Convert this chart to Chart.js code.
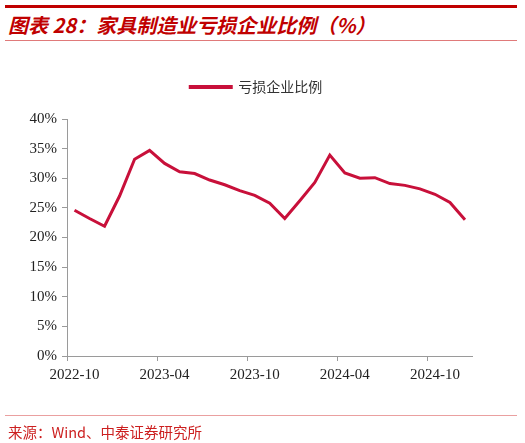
<!DOCTYPE html>
<html>
<head>
<meta charset="utf-8">
<script src="https://cdn.jsdelivr.net/npm/chart.js@4"></script>
<style>
  html, body { margin: 0; padding: 0; background: #fff; }
  #wrap { position: relative; width: 525px; height: 443px; overflow: hidden; }
  .rule { position: absolute; left: 5px; width: 512px; }
  #topRule { top: 5px; height: 3px; background: #c00000; }
  #titleRule { top: 40px; height: 1px; background: #e07a7a; }
  #srcRule { top: 415px; height: 1px; background: #eaa0a0; }
  #title { position: absolute; left: 8px; top: 10px; font: italic bold 20px "Noto Sans CJK SC", sans-serif; color: #c00000; white-space: nowrap; }
  #source { position: absolute; left: 8px; top: 421px; font: 14.5px "Noto Sans CJK SC", sans-serif; color: #cc1f1f; white-space: nowrap; }
  #c { position: absolute; left: 0; top: 0; }
</style>
</head>
<body>
<div id="wrap">
  <div class="rule" id="topRule"></div>
  <div id="title">图表 28：家具制造业亏损企业比例（%）</div>
  <div class="rule" id="titleRule"></div>
  <canvas id="c" width="525" height="443"></canvas>
  <div class="rule" id="srcRule"></div>
  <div id="source">来源：Wind、中泰证券研究所</div>
</div>
<script>
// ── Dados ──
const meses = ['2022-10','2022-11','2022-12',
  '2023-01','2023-02','2023-03','2023-04','2023-05','2023-06','2023-07','2023-08','2023-09','2023-10','2023-11','2023-12',
  '2024-01','2024-02','2024-03','2024-04','2024-05','2024-06','2024-07','2024-08','2024-09','2024-10','2024-11','2024-12'];
const prejuizo = [24.6, 23.2, 21.9,
  27.0, 33.2, 34.7, 32.5, 31.1, 30.8, 29.7, 28.9, 27.9, 27.1, 25.8, 23.2,
  26.2, 29.3, 33.9, 30.9, 30.0, 30.1, 29.1, 28.8, 28.2, 27.3, 25.9, 23.0];
const yTicks = [0, 5, 10, 15, 20, 25, 30, 35, 40];

const cor = '#c8103a';
const eixo = '#9a9a9a';
const serif = '"Liberation Serif", "Times New Roman", serif';

// espaço extra entre a legenda e a área do gráfico
const legendaGap = {
  id: 'legendaGap',
  beforeUpdate(chart) {
    const lg = chart.legend;
    if (lg && !lg._gapOk) {
      const fitOrig = lg.fit;
      lg.fit = function () { fitOrig.call(this); this.height += 15; };
      lg._gapOk = true;
    }
  }
};

new Chart(document.getElementById('c'), {
  type: 'line',
  data: {
    labels: meses,
    datasets: [{
      label: '亏损企业比例',
      data: prejuizo,
      borderColor: cor,
      backgroundColor: cor,
      borderWidth: 3,
      pointRadius: 0,
      tension: 0,
      fill: false
    }]
  },
  options: {
    responsive: false,
    animation: false,
    layout: { padding: { top: 74, left: 0, right: 12.5, bottom: 57 } },
    plugins: {
      legend: {
        position: 'top',
        labels: {
          boxWidth: 41,
          boxHeight: 1,
          padding: 6,
          color: '#333',
          font: { family: '"Noto Sans CJK SC", sans-serif', size: 14 }
        }
      },
      tooltip: { enabled: false }
    },
    scales: {
      x: {
        type: 'category',
        offset: true,
        afterFit: s => { s.height = 30; },
        grid: {
          offset: true,
          drawOnChartArea: false,
          tickLength: 5,
          color: ctx => (ctx.index !== undefined && ctx.index % 6 === 0) ? eixo : 'rgba(0,0,0,0)'
        },
        border: { color: eixo, width: 1 },
        ticks: {
          autoSkip: false,
          maxRotation: 0,
          padding: 5,
          color: '#222',
          font: { family: serif, size: 15 },
          callback: function (v, i) { return i % 6 === 0 ? meses[i] : ''; }
        }
      },
      y: {
        min: 0,
        max: 40,
        afterFit: s => { s.width = 67; },
        afterBuildTicks: s => { s.ticks = yTicks.map(v => ({ value: v })); },
        grid: { drawOnChartArea: false, tickLength: 5, color: eixo },
        border: { color: eixo, width: 1 },
        ticks: {
          padding: 5,
          color: '#222',
          font: { family: serif, size: 15 },
          callback: v => v + '%'
        }
      },
      // eixo vazio à direita, só para reservar a margem
      yDir: {
        position: 'right',
        min: 0,
        max: 40,
        afterFit: s => { s.width = 40; },
        grid: { display: false },
        border: { display: false },
        ticks: { display: false }
      }
    }
  },
  plugins: [legendaGap]
});
</script>
</body>
</html>
